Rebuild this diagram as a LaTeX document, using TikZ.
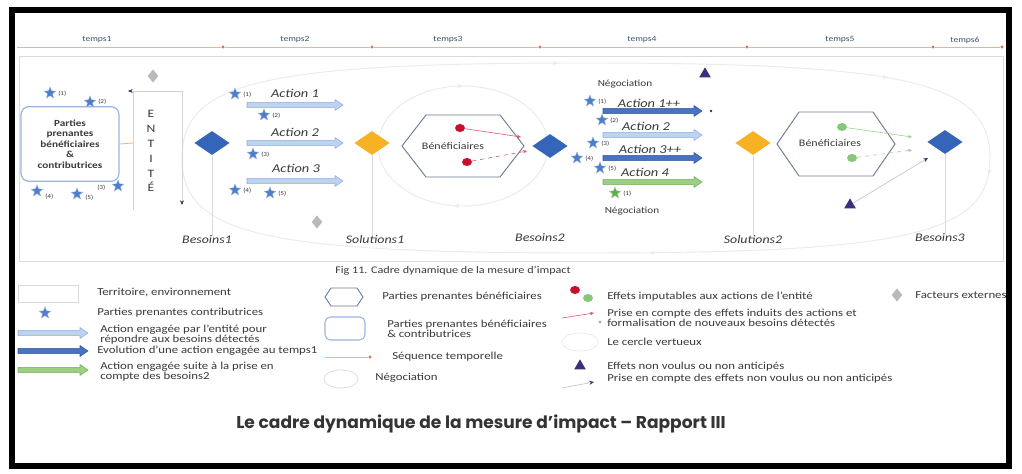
\documentclass[tikz,border=0pt]{standalone}
\usepackage{fontspec}
\setmainfont{Carlito}[FakeStretch=1.2]
\newfontfamily\titlefont{Poppins}
\usetikzlibrary{shapes.geometric,arrows.meta,calc,decorations.markings}
\definecolor{dblue}{HTML}{3465B8}
\definecolor{dyellow}{HTML}{F6B223}
\definecolor{starblue}{HTML}{4E7EC8}
\definecolor{stargreen}{HTML}{5DAF4A}
\definecolor{dred}{HTML}{C8102E}
\definecolor{dgreen}{HTML}{86C77A}
\definecolor{dpurple}{HTML}{3D2D7C}
\definecolor{navy}{HTML}{2B3A67}
\definecolor{txt}{HTML}{3A3A3A}
\definecolor{tmp}{HTML}{44546A}
\definecolor{tline}{HTML}{F4B183}
\definecolor{ltick}{HTML}{E2704F}
\definecolor{lba}{HTML}{BDD3F0}
\definecolor{lbd}{HTML}{8FAEE0}
\definecolor{dba}{HTML}{4A72C0}
\definecolor{dbd}{HTML}{34589F}
\definecolor{gra}{HTML}{9CCF84}
\definecolor{grd}{HTML}{74B05A}
\definecolor{boxb}{HTML}{9DB4DC}
\definecolor{hexb}{HTML}{6E7B91}
\newcommand\barr[5]{\filldraw[fill=#4,draw=#5,line width=0.4pt,line join=round]
  (#1,#3-2.6) -- (#2-8,#3-2.6) -- (#2-8,#3-5.5) -- (#2,#3) -- (#2-8,#3+5.5) -- (#2-8,#3+2.6) -- (#1,#3+2.6) -- cycle;}
\newcommand\hexa[4]{\filldraw[hexs] ($(#1)+(-#2,0)$) -- ($(#1)+(-#3,-#4)$) -- ($(#1)+(#3,-#4)$) -- ($(#1)+(#2,0)$) -- ($(#1)+(#3,#4)$) -- ($(#1)+(-#3,#4)$) -- cycle;}
\begin{document}
\begin{tikzpicture}[x=0.75pt,y=-0.75pt,
  tdot/.style={circle, fill=ltick, minimum size=2.4pt, inner sep=0},
  tl/.style={draw=tline, line width=0.6pt},
  tlab/.style={font=\fontsize{6}{7}\selectfont, text=tmp, inner sep=0},
  terr/.style={draw=gray!28, line width=0.6pt},
  faint/.style={draw=gray!16, line width=0.7pt},
  pbox/.style={draw=boxb, line width=0.9pt, rounded corners=6pt, minimum width=73.5pt, minimum height=56pt, align=center, font=\fontsize{7}{7.9}\selectfont\bfseries, text=txt, fill=white, inner sep=0},
  pstar/.style={star, star points=5, star point ratio=2.3, fill=starblue, draw=starblue!60!white, line width=0.3pt, minimum size=9pt, inner sep=0},
  gstar/.style={pstar, fill=stargreen, draw=stargreen!60!white},
  slab/.style={font=\fontsize{4.5}{5}\selectfont, text=txt, inner sep=0, anchor=west},
  dia/.style={diamond, inner sep=0, minimum width=26.5pt, minimum height=18pt},
  bdia/.style={dia, fill=dblue},
  ydia/.style={dia, fill=dyellow},
  gdia/.style={diamond, inner sep=0, minimum width=8pt, minimum height=10pt, fill=gray!55},
  need/.style={font=\fontsize{8.7}{10}\selectfont\itshape, text=txt, inner sep=0},
  act/.style={font=\fontsize{9}{10}\selectfont\itshape, text=txt, inner sep=0},
  neg/.style={font=\fontsize{7}{8}\selectfont, text=txt, inner sep=0},
  leg/.style={font=\fontsize{8}{7.5}\selectfont, text=txt, anchor=west, align=left, inner sep=0},
  hexs/.style={draw=hexb, line width=0.7pt, fill=white},
  hexlbl/.style={font=\fontsize{7.5}{9}\selectfont, text=txt, inner sep=0},
  rdot/.style={ellipse, fill=dred, minimum width=7.5pt, minimum height=6pt, inner sep=0},
  gdot/.style={ellipse, fill=dgreen, minimum width=7.5pt, minimum height=6pt, inner sep=0},
  ptri/.style={regular polygon, regular polygon sides=3, fill=dpurple, minimum size=10pt, inner sep=0},
  vline/.style={draw=gray!30, line width=0.5pt},
  redl/.style={draw=dred!70, line width=0.45pt, -{Stealth[length=3pt,width=2.6pt]}},
  greenl/.style={draw=dgreen!80, line width=0.45pt, -{Stealth[length=3pt,width=2.6pt]}},
  grayl/.style={draw=gray!45, line width=0.5pt, -{Stealth[length=3.5pt,width=3pt,color=navy]}},
  bigmarks/.style={postaction={decorate, color=navy, decoration={markings,
    mark=at position 0.17 with {\arrow{Stealth[length=4pt,width=3.5pt]}},
    mark=at position 0.26 with {\arrow{Stealth[length=4pt,width=3.5pt]}},
    mark=at position 0.465 with {\arrow{Stealth[length=4pt,width=3.5pt]}},
    mark=at position 0.985 with {\arrow{Stealth[length=4pt,width=3.5pt]}}}}},
  ellmarks/.style={postaction={decorate, color=navy, decoration={markings,
    mark=at position 0.27 with {\arrow{Stealth[length=4pt,width=3.5pt]}},
    mark=at position 0.75 with {\arrow{Stealth[length=4pt,width=3.5pt]}}}}},
  figcap/.style={font=\fontsize{7.6}{9}\selectfont, text=txt, inner sep=0},
  ttl/.style={font=\titlefont\bfseries\fontsize{12.8}{14}\selectfont, text=txt!90!black, inner sep=0}
]
\fill[white] (0,0) rectangle (1022,474);
\useasboundingbox (0,0) rectangle (1022,474);
\draw[line width=4.5pt] (12,10) rectangle (1009,466);

% timeline
\coordinate (t0) at (17,47);
\node[tdot] (t1) at (223,47) {};
\node[tdot] (t2) at (372,47) {};
\node[tdot] (t3) at (540,47) {};
\node[tdot] (t4) at (747,47) {};
\node[tdot] (t5) at (933,47) {};
\node[tdot] (t6) at (1002,47) {};
\draw[tl] (t0) -- (t1) -- (t2) -- (t3) -- (t4) -- (t5) -- (t6);
\node[tlab] (tp1) at (97,40) {temps1};
\node[tlab] (tp2) at (295,40) {temps2};
\node[tlab] (tp3) at (448,40) {temps3};
\node[tlab] (tp4) at (642,40) {temps4};
\node[tlab] (tp5) at (840,40) {temps5};
\node[tlab] (tp6) at (965,40) {temps6};

% territory
\draw[terr] (19,56) rectangle (1003,261);

% virtuous circle and negotiation loop
\draw[faint, bigmarks] (585,63) .. controls (909,63) and (990,82) .. (990,158)
  .. controls (990,234) and (909,253) .. (585,253)
  .. controls (261,253) and (182,234) .. (182,158)
  .. controls (182,82) and (261,63) .. (585,63);
\draw[faint, ellmarks] (463,146) ellipse [x radius=85, y radius=60];

% parties prenantes
\node[pbox] (P) at (70,144) {Parties\\prenantes\\bénéficiaires\\\&\\contributrices};
\node[pstar] (ls1) at (50,93) {}; \node[slab] (ls1l) at (58,94) {(1)};
\node[pstar] (ls2) at (90,102) {}; \node[slab] (ls2l) at (98,102) {(2)};
\node[pstar] (ls3) at (118,186) {}; \node[slab] (ls3l) at (97,188) {(3)};
\node[pstar] (ls4) at (37,191) {}; \node[slab] (ls4l) at (45,197) {(4)};
\node[pstar] (ls5) at (77,194) {}; \node[slab] (ls5l) at (85,198) {(5)};

% entity
\node[gdia] (g1) at (153,76) {};
\node[font=\fontsize{8.5}{11.2}\selectfont, text=txt, align=center, inner sep=0] (E) at (151,151) {E\\N\\T\\I\\T\\É};
\coordinate (eTL) at (133,91);
\coordinate (eBL) at (133,210);
\coordinate (eTR) at (182,91);
\coordinate (eBR) at (182,205);
\coordinate (eTA) at (128,91);
\draw[draw=gray!35, line width=0.5pt] (eBL) -- (eTL);
\draw[draw=gray!35, line width=0.5pt, -{Stealth[length=3.5pt,width=3pt,color=navy]}] (eTR) -- (eTA);
\draw[draw=gray!35, line width=0.5pt, -{Stealth[length=3.5pt,width=3pt,color=navy]}] (eTR) -- (eBR);
\coordinate (pe) at (133,143);
\draw[tl] (P.east) -- (pe);

% besoins 1
\node[bdia] (B1) at (212,143) {};
\node[need] (b1t) at (207,240) {Besoins1};
\draw[vline] (B1.south) -- (B1.south |- b1t.north);

% actions temps 1
\node[act] (a1) at (295,93) {Action 1};
\barr{247}{343}{105}{lba}{lbd}
\node[act] (a2) at (295,132) {Action 2};
\barr{247}{343}{143}{lba}{lbd}
\node[act] (a3) at (296,168) {Action 3};
\barr{247}{343}{181}{lba}{lbd}
\node[pstar] (as1) at (235,94) {}; \node[slab] (as1l) at (243,95) {(1)};
\node[pstar] (as2) at (264,115) {}; \node[slab] (as2l) at (272,116) {(2)};
\node[pstar] (as3) at (253,154) {}; \node[slab] (as3l) at (261,155) {(3)};
\node[pstar] (as4) at (235,190) {}; \node[slab] (as4l) at (243,191) {(4)};
\node[pstar] (as5) at (270,193) {}; \node[slab] (as5l) at (278,194) {(5)};
\node[gdia] (g2) at (317,222) {};

% solutions 1
\node[ydia] (S1) at (372,143) {};
\node[need] (s1t) at (375,240) {Solutions1};
\draw[vline] (S1.south) -- (S1.south |- s1t.north);

% beneficiaires 1
\coordinate (H1c) at (463,146);
\hexa{H1c}{61}{37}{31}
\node[hexlbl] (H1) at (453,146) {Bénéficiaires};
\node[rdot] (r1) at (460,128) {};
\node[rdot] (r2) at (467,162) {};
\coordinate (r1e) at (521,137);
\coordinate (r2e) at (527,151);
\draw[redl] (r1) -- (r1e);
\draw[redl, dashed] (r2) -- (r2e);

% besoins 2
\node[bdia] (B2) at (550,146) {};
\node[need] (b2t) at (540,238) {Besoins2};

% actions temps 4
\node[neg] (n1) at (625,84) {Négociation};
\node[act] (c1) at (649,103) {Action 1++};
\barr{603}{702}{111}{dba}{dbd}
\node[circle, fill=navy, minimum size=2pt, inner sep=0] (c1d) at (711,111) {};
\node[act] (c2) at (646,126) {Action 2};
\barr{603}{702}{135}{lba}{lbd}
\node[act] (c3) at (650,149) {Action 3++};
\barr{603}{702}{158}{dba}{dbd}
\node[act] (c4) at (645,172) {Action 4};
\barr{603}{702}{182}{gra}{grd}
\node[neg] (n2) at (632,211) {Négociation};
\node[pstar] (cs1) at (590,101) {}; \node[slab] (cs1l) at (598,102) {(1)};
\node[pstar] (cs2) at (602,120) {}; \node[slab] (cs2l) at (610,121) {(2)};
\node[pstar] (cs3) at (593,143) {}; \node[slab] (cs3l) at (601,144) {(3)};
\node[pstar] (cs4) at (577,158) {}; \node[slab] (cs4l) at (585,159) {(4)};
\node[pstar] (cs5) at (600,168) {}; \node[slab] (cs5l) at (608,169) {(5)};
\node[gstar] (cs6) at (615,193) {}; \node[slab] (cs6l) at (623,194) {(1)};

% effets non voulus
\node[ptri] (p1) at (705,74) {};

% solutions 2
\node[ydia] (S2) at (753,143) {};
\node[need] (s2t) at (753,240) {Solutions2};
\draw[vline] (S2.south) -- (S2.south |- s2t.north);

% beneficiaires 2
\coordinate (H2c) at (836,144);
\hexa{H2c}{59}{37}{32}
\node[hexlbl] (H2) at (830,143) {Bénéficiaires};
\node[gdot] (gd1) at (842,127) {};
\node[gdot] (gd2) at (852,158) {};
\coordinate (gd1e) at (912,137);
\coordinate (gd2e) at (912,150);
\draw[greenl] (gd1) -- (gd1e);
\draw[greenl, dashed] (gd2) -- (gd2e);

% besoins 3
\node[bdia] (B3) at (945,142) {};
\node[need] (b3t) at (940,238) {Besoins3};
\draw[vline] (B3.south) -- (B3.south |- b3t.north);
\node[ptri] (p2) at (850,205) {};
\coordinate (p2e) at (928,158);
\draw[grayl] (p2) -- (p2e);

% caption
\node[figcap] (cap) at (453,271) {Fig 11. Cadre dynamique de la mesure d’impact};

% legend column 1
\node[draw=gray!30, line width=0.5pt, minimum width=45pt, minimum height=12.75pt, inner sep=0] (Lterr) at (48,293.5) {};
\node[leg] (Lterrt) at (97,293) {Territoire, environnement};
\node[pstar] (Lstar) at (45,313) {};
\node[leg] (Lstart) at (97,313) {Parties prenantes contributrices};
\barr{18}{88}{333}{lba}{lbd}
\node[leg] (La1) at (100,335) {Action engagée par l’entité pour\\répondre aux besoins détectés};
\barr{18}{88}{351}{dba}{dbd}
\node[leg] (La2) at (97,351) {Evolution d’une action engagée au temps1};
\barr{18}{88}{370}{gra}{grd}
\node[leg] (La3) at (100,372) {Action engagée suite à la prise en\\compte des besoins2};

% legend column 2
\coordinate (Lhc) at (344,297);
\hexa{Lhc}{19}{13}{9}
\node[leg] (Lht) at (382,297) {Parties prenantes bénéficiaires};
\node[draw=boxb, line width=0.8pt, rounded corners=4pt, minimum width=30pt, minimum height=17.25pt, inner sep=0] (Lpb) at (345,328.5) {};
\node[leg] (Lpbt) at (387,329) {Parties prenantes bénéficiaires\\\& contributrices};
\coordinate (Ls0) at (325,357);
\node[tdot] (Ls1) at (370,357) {};
\draw[tl] (Ls0) -- (Ls1);
\node[leg] (Lst) at (392,357) {Séquence temporelle};
\node[ellipse, draw=gray!25, line width=0.6pt, minimum width=25.5pt, minimum height=13.5pt, inner sep=0] (Lneg) at (341,379) {};
\node[leg] (Lnegt) at (375,378) {Négociation};

% legend column 3
\node[rdot] (Lr) at (575,290) {};
\node[gdot] (Lg) at (588,298) {};
\node[leg] (Lrt) at (607,297) {Effets imputables aux actions de l’entité};
\coordinate (Lra) at (562,318);
\coordinate (Lrb) at (594,313);
\draw[redl] (Lra) -- (Lrb);
\node[circle, fill=dgreen, minimum size=2.5pt, inner sep=0] (Lgs) at (600,322) {};
\node[leg] (Lrlt) at (607,318) {Prise en compte des effets induits des actions et\\formalisation de nouveaux besoins détectés};
\node[ellipse, draw=gray!15, line width=0.6pt, minimum width=27pt, minimum height=13.5pt, inner sep=0] (Lcv) at (580,342) {};
\node[leg] (Lcvt) at (607,342) {Le cercle vertueux};
\node[ptri] (Lpt) at (580,366) {};
\node[leg] (Lptt) at (607,367) {Effets non voulus ou non anticipés};
\coordinate (Lga) at (562,388);
\coordinate (Lgb) at (594,382);
\draw[grayl] (Lga) -- (Lgb);
\node[leg] (Lgt) at (607,379) {Prise en compte des effets non voulus ou non anticipés};

% legend column 4
\node[gdia] (Lgd) at (897,295) {};
\node[leg] (Lgdt) at (915,295) {Facteurs externes};

% title
\node[ttl] (T) at (481,424) {Le cadre dynamique de la mesure d’impact – Rapport III};
\end{tikzpicture}
\end{document}
